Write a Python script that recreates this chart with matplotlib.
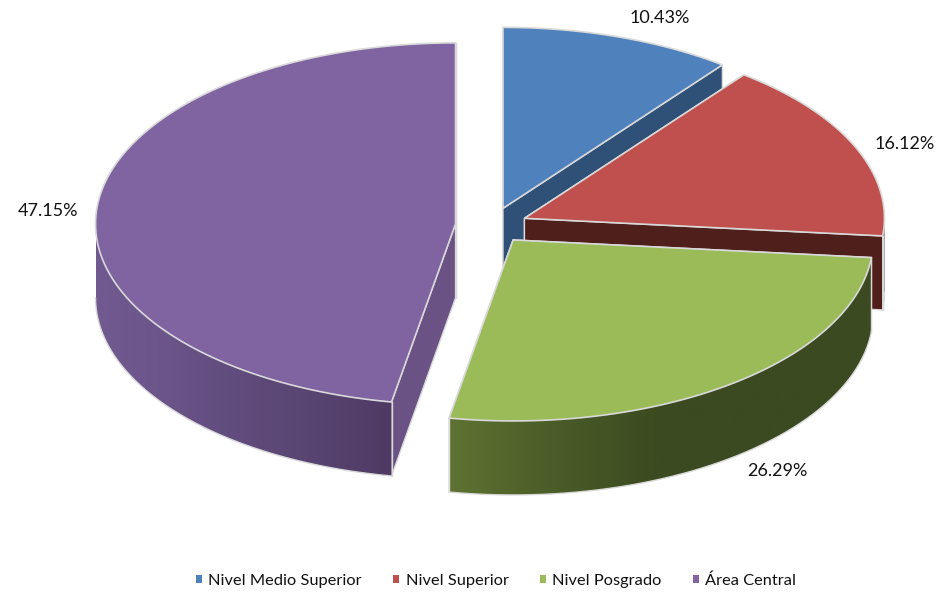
import numpy as np
import matplotlib
matplotlib.use('Agg')
import matplotlib.pyplot as plt
from matplotlib.colors import LinearSegmentedColormap
from matplotlib.patches import Patch, Polygon

plt.rcParams['font.family'] = ['Lato', 'DejaVu Sans']

# Data
categories = ['Nivel Medio Superior', 'Nivel Superior', 'Nivel Posgrado', 'Área Central']
values = [10.43, 16.12, 26.29, 47.15]

# Colours per slice
top_colors = ['#4F81BD', '#C0504D', '#9BBB59', '#8064A2']
face_colors = ['#2F5077', '#4F1F1C', '#3B4A20', '#6A5285']
wall_shades = [
    ['#2F5077', '#2F5077'],
    ['#4F1F1C', '#4F1F1C'],
    ['#5E7332', '#4A5C28', '#3B4A20', '#3B4A20', '#3B4A20'],
    ['#705A90', '#6A5488', '#604B7C', '#584470', '#4E3A63'],
]

# Pie geometry in pixels of the final figure
W, H = 937, 592
cx, cy = 491.4, 225.5
rx, ry = 360.0, 181.0
depth = 74 / ry
explode = 0.1

fig = plt.figure(figsize=(W / 100, H / 100), dpi=100)
ax = fig.add_axes([0, 0, 1, 1])
xlim = (-cx / rx, (W - cx) / rx)
ylim = ((cy - H) / ry, cy / ry)
ax.set_xlim(xlim)
ax.set_ylim(ylim)
ax.axis('off')

edge = '#D9D9D9'


def arc(a1, a2, n=160):
    # angles run clockwise from the top of the pie
    t = np.radians(np.linspace(a1, a2, n))
    return np.sin(t), np.cos(t)


angles = np.concatenate([[0], np.cumsum(values) / np.sum(values) * 360])

for i in range(len(values)):
    a1, a2 = angles[i], angles[i + 1]
    mid = np.radians((a1 + a2) / 2)
    ox, oy = explode * np.sin(mid), explode * np.cos(mid)
    z = i * 3

    # cut faces
    for a in (a1, a2):
        px, py = np.sin(np.radians(a)) + ox, np.cos(np.radians(a)) + oy
        face = [(ox, oy), (px, py), (px, py - depth), (ox, oy - depth)]
        ax.add_patch(Polygon(face, closed=True, fc=face_colors[i], ec=edge, lw=1.0, zorder=z + 1))

    # outer wall, only the part that faces the viewer
    w1, w2 = max(a1, 90), min(a2, 270)
    if w2 > w1:
        xs, ys = arc(w1, w2)
        xs, ys = xs + ox, ys + oy
        wall = np.column_stack([np.r_[xs, xs[::-1]], np.r_[ys, ys[::-1] - depth]])
        shape = Polygon(wall, closed=True, fc='none', ec='none', transform=ax.transData)
        ax.add_patch(shape)
        cmap = LinearSegmentedColormap.from_list('wall%d' % i, wall_shades[i])
        img = ax.imshow(np.linspace(0, 1, 256).reshape(1, -1), cmap=cmap, aspect='auto', zorder=z + 2,
                        extent=(xs.min(), xs.max(), (ys - depth).min(), ys.max()))
        img.set_clip_path(shape)
        ax.plot(xs, ys - depth, color=edge, lw=1.0, zorder=z + 2)
        for k in (0, -1):
            if w1 == a1 and k == 0 or w2 == a2 and k == -1:
                ax.plot([xs[k], xs[k]], [ys[k], ys[k] - depth], color=edge, lw=1.0, zorder=z + 2)

    # top of the slice
    xs, ys = arc(a1, a2)
    top = np.column_stack([np.r_[ox, xs + ox], np.r_[oy, ys + oy]])
    ax.add_patch(Polygon(top, closed=True, fc=top_colors[i], ec=edge, lw=1.2, zorder=z + 3))

ax.set_xlim(xlim)
ax.set_ylim(ylim)

# Data labels
labels = ['%.2f%%' % v for v in values]
label_px = [(660, 18), (905, 144), (777, 471), (48, 211)]
for lab, (px, py) in zip(labels, label_px):
    fig.text(px / W, 1 - py / H, lab, ha='center', va='center', fontsize=13, color='#111111')

handles = [Patch(fc=c, ec='none', label=n) for c, n in zip(top_colors, categories)]
leg = ax.legend(handles=handles, loc='center', bbox_to_anchor=(496 / W, 1 - 581 / H), ncol=4, frameon=False,
                fontsize=11.8, handlelength=0.37, handleheight=0.37, handletextpad=0.4, columnspacing=1.9,
                labelcolor='#111111')

fig.savefig('out.png', dpi=100, facecolor='white')
